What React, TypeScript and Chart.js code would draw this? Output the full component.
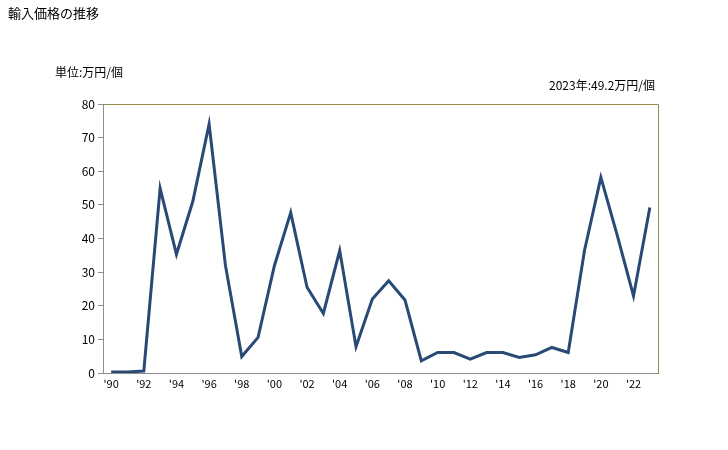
import React, { useEffect, useRef } from "react";
import { Chart, registerables } from "chart.js";

Chart.register(...registerables);

const years = [
  1990, 1991, 1992, 1993, 1994, 1995, 1996, 1997, 1998, 1999, 2000, 2001,
  2002, 2003, 2004, 2005, 2006, 2007, 2008, 2009, 2010, 2011, 2012, 2013,
  2014, 2015, 2016, 2017, 2018, 2019, 2020, 2021, 2022, 2023,
];
const prices = [
  0.3, 0.3, 0.6, 54.9, 35.3, 51.0, 74.0, 32.0, 4.9, 10.6, 31.9, 47.7,
  25.5, 17.7, 36.4, 7.8, 22.0, 27.4, 21.7, 3.6, 6.1, 6.1, 4.1, 6.1,
  6.1, 4.6, 5.4, 7.6, 6.1, 36.5, 58.2, 41.0, 22.9, 49.2,
];
const yTicks = [0, 10, 20, 30, 40, 50, 60, 70, 80];
const titleText = "輸入価格の推移";
const unitText = "単位:万円/個";
const latestText = "2023年:49.2万円/個";

const FONT = "'Noto Sans CJK JP', 'DejaVu Sans', sans-serif";

export default function App() {
  const ref = useRef<HTMLCanvasElement | null>(null);
  useEffect(() => {
    document.body.style.margin = "0";
    const canvas = ref.current!;
    const textPlugin = {
      id: "texts",
      afterDraw(chart: any) {
        const ctx = chart.ctx;
        const a = chart.chartArea;
        ctx.save();
        ctx.strokeStyle = "#968a4c";
        ctx.lineWidth = 1;
        ctx.beginPath();
        ctx.moveTo(a.left, a.top + 0.5);
        ctx.lineTo(a.right + 0.5, a.top + 0.5);
        ctx.lineTo(a.right + 0.5, a.bottom);
        ctx.stroke();
        ctx.fillStyle = "#000";
        ctx.textBaseline = "middle";
        ctx.font = `13px ${FONT}`;
        ctx.textAlign = "left";
        ctx.fillText(titleText, 8, 13);
        ctx.font = `12px ${FONT}`;
        ctx.fillText(unitText, 55, 72);
        ctx.textAlign = "right";
        ctx.fillText(latestText, 655, 85);
        ctx.restore();
      },
    };
    const chart = new Chart(canvas, {
      type: "line",
      data: {
        labels: years.map((y) => "'" + String(y).slice(2)),
        datasets: [
          {
            data: prices,
            borderColor: "#284a75",
            borderWidth: 3,
            pointRadius: 0,
            tension: 0,
            fill: false,
          },
        ],
      },
      options: {
        animation: false,
        responsive: false,
        layout: { padding: { left: 63, top: 104, right: 70, bottom: 47 } },
        plugins: { legend: { display: false }, tooltip: { enabled: false } },
        scales: {
          x: {
            offset: true,
            grid: { display: false },
            border: { display: true, color: "#8c8c8c", width: 1 },
            ticks: {
              autoSkip: false,
              maxRotation: 0,
              color: "#000",
              font: { family: FONT, size: 11 },
              padding: -4,
              callback: (v: any, i: number) => (i % 2 === 0 ? "'" + String(years[i]).slice(2) : ""),
            },
            afterFit: (s: any) => {
              s.height = 30;
            },
          },
          y: {
            min: 0,
            max: 80,
            afterBuildTicks: (s: any) => {
              s.ticks = yTicks.map((v) => ({ value: v }));
            },
            grid: {
              display: true,
              drawOnChartArea: false,
              drawTicks: true,
              tickLength: 5,
              color: "#8c8c8c",
            },
            border: { display: true, color: "#8c8c8c", width: 1 },
            ticks: {
              color: "#000",
              font: { family: FONT, size: 12 },
              padding: 3,
            },
            afterFit: (s: any) => {
              s.width = 40;
            },
          },
        },
      },
      plugins: [textPlugin],
    });
    return () => chart.destroy();
  }, []);
  return (
    <div style={{ position: "absolute", left: 0, top: 0, width: 728, height: 450, background: "#fff" }}>
      <canvas ref={ref} width={728} height={450} style={{ width: 728, height: 450 }} />
    </div>
  );
}
